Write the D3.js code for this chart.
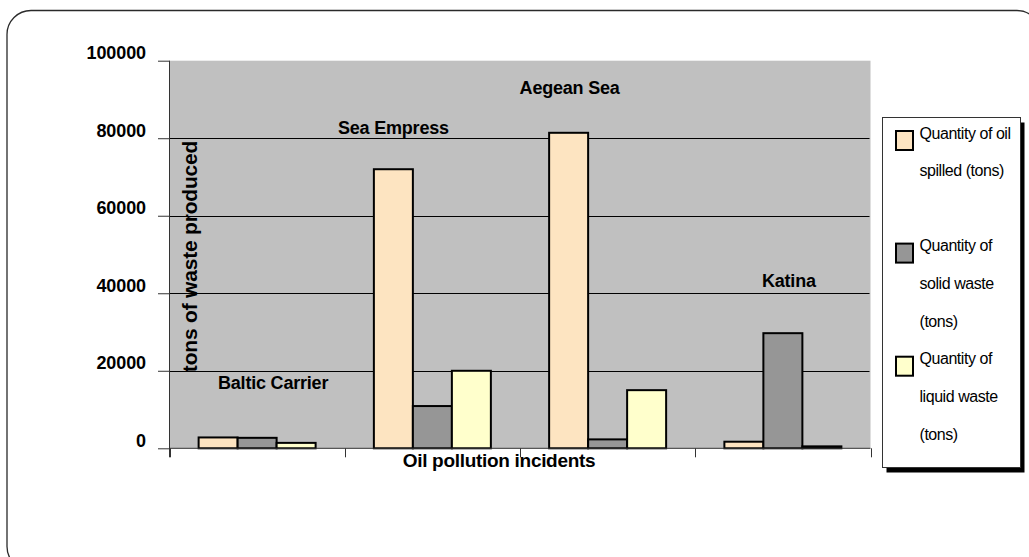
<!DOCTYPE html>
<html>
<head>
<meta charset="utf-8">
<script src="https://cdn.jsdelivr.net/npm/d3@7"></script>
<style>
  html, body { margin: 0; padding: 0; background: #fff; }
  svg { display: block; font-family: "Liberation Sans", Arial, sans-serif; }
</style>
</head>
<body>
<svg id="chart" width="1029" height="557"></svg>
<script>
// ---- data ----
const categories = ["Baltic Carrier", "Sea Empress", "Aegean Sea", "Katina"];
const seriesNames = ["Quantity of oil spilled (tons)", "Quantity of solid waste (tons)", "Quantity of liquid waste (tons)"];
const oilSpilled = [2800, 72000, 81400, 1700];
const solidWaste = [2700, 10900, 2300, 29700];
const liquidWaste = [1400, 20000, 15000, 500];
const yTicks = [0, 20000, 40000, 60000, 80000, 100000];
const legendLines = [["Quantity of oil", "spilled (tons)"], ["Quantity of", "solid waste", "(tons)"], ["Quantity of", "liquid waste", "(tons)"]];
const yTitle = "tons of waste produced";
const xTitle = "Oil pollution incidents";

// ---- layout / style ----
const colors = ["#fde4c1", "#969696", "#ffffcc"];
const plot = { left: 169.5, right: 870.5, top: 60.7, bottom: 448.3 };
// category-name annotation offsets (pixels from category centre, data value for height)
const labelPlacement = [
  { dx: 16, v: 15200 },
  { dx: -39, v: 81200 },
  { dx: -38, v: 91400 },
  { dx: 6, v: 41500 }
];

const svg = d3.select("#chart");

// outer rounded frame
svg.append("rect")
  .attr("x", 7).attr("y", 10.5).attr("width", 1034).attr("height", 560)
  .attr("rx", 24).attr("ry", 24)
  .attr("fill", "#fff").attr("stroke", "#2a2a2a").attr("stroke-width", 1.3);

const x0 = d3.scaleBand().domain(categories).range([plot.left, plot.right]).paddingInner(0).paddingOuter(0);
const bw = x0.bandwidth();
const x1 = d3.scaleBand().domain(d3.range(seriesNames.length)).range([bw * 0.1662, bw * 0.8338]).padding(0);
const y = d3.scaleLinear().domain([0, 100000]).range([plot.bottom, plot.top]);

// plot background
svg.append("rect")
  .attr("x", plot.left).attr("y", y(100000))
  .attr("width", plot.right - plot.left).attr("height", y(0) - y(100000))
  .attr("fill", "#c0c0c0");

// gridlines
svg.append("g").selectAll("line")
  .data(yTicks.filter(t => t > 0 && t < 100000))
  .join("line")
  .attr("x1", plot.left).attr("x2", plot.right - 1)
  .attr("y1", d => Math.round(y(d)) + 0.5).attr("y2", d => Math.round(y(d)) + 0.5)
  .attr("stroke", "#000").attr("stroke-width", 1);

// bars
const seriesValues = [oilSpilled, solidWaste, liquidWaste];
const barData = [];
categories.forEach((c, i) => {
  seriesValues.forEach((vals, s) => barData.push({ cat: c, s, v: vals[i] }));
});
svg.append("g").selectAll("rect")
  .data(barData)
  .join("rect")
  .attr("x", d => x0(d.cat) + x1(d.s))
  .attr("y", d => y(d.v))
  .attr("width", x1.bandwidth())
  .attr("height", d => y(0) - y(d.v))
  .attr("fill", d => colors[d.s])
  .attr("stroke", "#000").attr("stroke-width", 2);

// y axis
const yAxis = svg.append("g")
  .attr("transform", `translate(${plot.left},0)`)
  .call(d3.axisLeft(y).tickValues(yTicks).tickFormat(d3.format("d")).tickSize(11.5).tickPadding(12));
yAxis.select(".domain").remove();
yAxis.selectAll(".tick line").attr("stroke", "#333");
yAxis.selectAll(".tick text")
  .attr("dy", "-2px")
  .attr("font-size", 18).attr("font-weight", "bold").attr("fill", "#000")
  .attr("font-family", "Liberation Sans, Arial, sans-serif")
  .style("letter-spacing", "-0.1px");
svg.append("line")
  .attr("x1", plot.left).attr("x2", plot.left)
  .attr("y1", plot.top).attr("y2", plot.bottom + 9)
  .attr("stroke", "#333").attr("stroke-width", 1);

// x axis baseline + boundary ticks
svg.append("line")
  .attr("x1", plot.left).attr("x2", plot.right)
  .attr("y1", y(0)).attr("y2", y(0))
  .attr("stroke", "#333").attr("stroke-width", 1);
const boundaries = categories.map(c => x0(c)).concat([x0(categories[categories.length - 1]) + bw]);
svg.append("g").selectAll("line")
  .data(boundaries)
  .join("line")
  .attr("x1", d => Math.round(d) + 0.5).attr("x2", d => Math.round(d) + 0.5)
  .attr("y1", y(0)).attr("y2", y(0) + 9)
  .attr("stroke", "#333").attr("stroke-width", 1);

// axis titles
svg.append("text")
  .attr("x", (plot.left + plot.right) / 2 - 21).attr("y", 467)
  .attr("text-anchor", "middle")
  .attr("font-size", 19).attr("font-weight", "bold")
  .style("letter-spacing", "-0.3px")
  .text(xTitle);
svg.append("text")
  .attr("transform", `translate(196.5,${(140 + 373) / 2}) rotate(-90)`)
  .attr("text-anchor", "middle")
  .attr("font-size", 21).attr("font-weight", "bold")
  .style("letter-spacing", "-0.2px")
  .text(yTitle);

// category annotations
svg.append("g").selectAll("text")
  .data(categories)
  .join("text")
  .attr("x", (d, i) => x0(d) + bw / 2 + labelPlacement[i].dx)
  .attr("y", (d, i) => y(labelPlacement[i].v))
  .attr("text-anchor", "middle")
  .attr("font-size", 18).attr("font-weight", "bold")
  .style("letter-spacing", "-0.2px")
  .text(d => d);

// legend
const lg = svg.append("g");
const box = { x: 882.5, y: 117.5, w: 138, h: 350 };
lg.append("rect").attr("x", box.x + 4).attr("y", box.y + 5).attr("width", box.w).attr("height", box.h).attr("fill", "#000");
lg.append("rect").attr("x", box.x).attr("y", box.y).attr("width", box.w).attr("height", box.h)
  .attr("fill", "#fff").attr("stroke", "#333").attr("stroke-width", 1);
const lineH = 37.7;
const firstBase = 138.5;
legendLines.forEach((lines, s) => {
  const base = firstBase + s * 3 * lineH - (s > 0 ? 0.5 : 0);
  lg.append("rect")
    .attr("x", 896).attr("y", base - 7.5).attr("width", 17).attr("height", 19)
    .attr("fill", colors[s]).attr("stroke", "#000").attr("stroke-width", 2);
  lines.forEach((t, k) => {
    lg.append("text")
      .attr("x", 919.5).attr("y", base + k * lineH)
      .attr("font-size", 16)
      .style("letter-spacing", "-0.45px")
      .text(t);
  });
});
</script>
</body>
</html>
